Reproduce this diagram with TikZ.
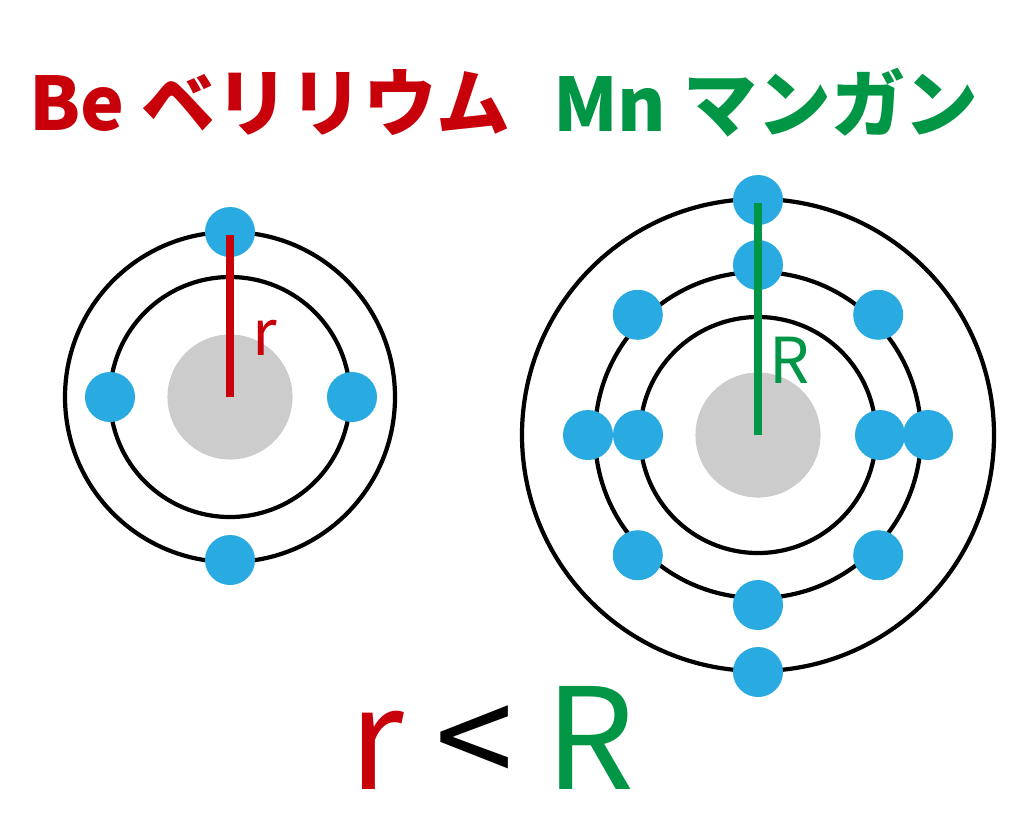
\documentclass[tikz,border=0pt]{standalone}
\usepackage{fontspec}
\setmainfont{Noto Sans CJK JP}
\usepackage{tikz}
\definecolor{bered}{RGB}{200,0,10}
\definecolor{mngreen}{RGB}{0,150,70}
\definecolor{elblue}{RGB}{41,171,226}
\definecolor{nucgray}{RGB}{204,204,204}
\tikzset{
  electron/.style={circle,fill=elblue,minimum size=0.5cm,inner sep=0pt},
  orbit/.style={line width=1.2pt},
  nucleus/.style={circle,fill=nucgray,minimum size=1.25cm,inner sep=0pt}
}
\begin{document}
\begin{tikzpicture}[x=0.01cm,y=-0.01cm]
\useasboundingbox (0,0) rectangle (1024,814);

% Be atom
\pgfmathsetmacro{\Bx}{230};
\pgfmathsetmacro{\By}{397};
\node[nucleus] (benuc) at (\Bx,\By) {};
\draw [orbit] (\Bx,\By) circle [radius=120];
\draw [orbit] (\Bx,\By) circle [radius=165];
\node[electron] (bea) at (\Bx,\By-165) {};
\node[electron] (beb) at (\Bx,\By+163) {};
\node[electron] (bec) at (\Bx-120,\By) {};
\node[electron] (bed) at (\Bx+122,\By) {};
\draw [bered,line width=2.5pt] (benuc.center) -- (\Bx,\By-162);
\node[bered,font=\fontsize{18}{18}\selectfont] (rlab) at (265,338) {r};
\node[bered,font=\fontsize{21}{21}\selectfont\bfseries] (betitle) at (270,103) {Be ベリリウム};

% Mn atom
\pgfmathsetmacro{\Mx}{758};
\pgfmathsetmacro{\My}{435};
\node[nucleus] (mnnuc) at (\Mx,\My) {};
\draw [orbit] (\Mx,\My) circle [radius=118];
\draw [orbit] (\Mx,\My) circle [radius=163];
\draw [orbit] (\Mx,\My) circle [radius=236];
\node[electron] (mna) at (\Mx-120,\My) {};
\node[electron] (mnb) at (\Mx+122,\My) {};
\foreach \ang [count=\i] in {0,45,90,135,180,225,270,315}
  \node[electron] (mnm\i) at ({\Mx+170*cos(\ang)},{\My-170*sin(\ang)}) {};
\node[electron] (mnt) at (\Mx,\My-235) {};
\node[electron] (mnu) at (\Mx,\My+237) {};
\draw [mngreen,line width=2.5pt] (mnnuc.center) -- (\Mx,\My-232);
\node[mngreen,font=\fontsize{18}{18}\selectfont] (Rlab) at (790,360) {R};
\node[mngreen,font=\fontsize{21}{21}\selectfont\bfseries] (mntitle) at (766,103) {Mn マンガン};

% comparison
\node[font=\fontsize{40}{40}\selectfont] (cmp) at (492,738)
  {\textcolor{bered}{r} < \textcolor{mngreen}{R}};
\end{tikzpicture}
\end{document}
